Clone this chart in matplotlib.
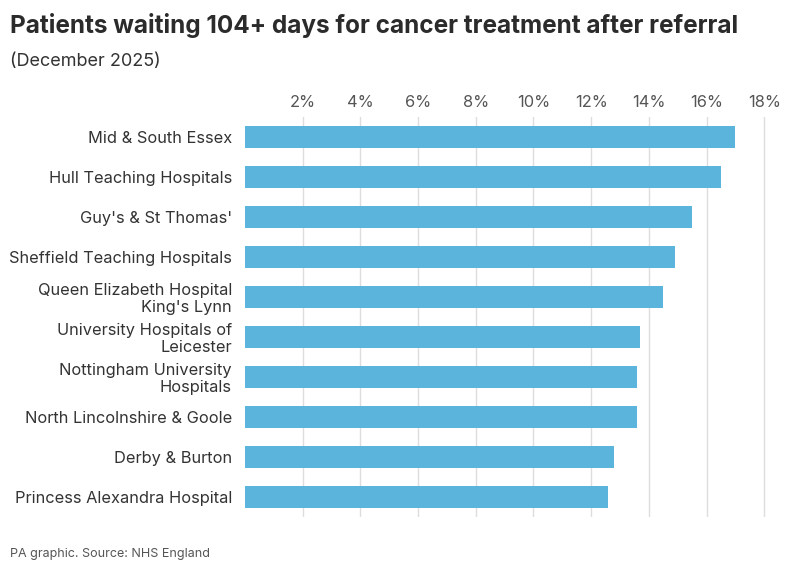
import matplotlib
matplotlib.use('Agg')
from matplotlib import pyplot as plt
from matplotlib.ticker import FuncFormatter

plt.rcParams['font.family'] = ['Inter', 'DejaVu Sans']

trusts = [
    'Mid & South Essex',
    'Hull Teaching Hospitals',
    "Guy's & St Thomas'",
    'Sheffield Teaching Hospitals',
    "Queen Elizabeth Hospital\nKing's Lynn",
    'University Hospitals of\nLeicester',
    'Nottingham University\nHospitals',
    'North Lincolnshire & Goole',
    'Derby & Burton',
    'Princess Alexandra Hospital',
]
pct_waiting = [17.0, 16.5, 15.5, 14.9, 14.5, 13.7, 13.6, 13.6, 12.8, 12.6]
x_ticks = [2, 4, 6, 8, 10, 12, 14, 16, 18]

BAR_COLOR = '#5ab4db'
TEXT_COLOR = '#333333'
GRID_COLOR = '#dddddd'

fig = plt.figure(figsize=(7.94, 5.75), dpi=100)
ax = fig.add_axes([0.3086, 0.1009, 0.9698 - 0.3086, 0.7965 - 0.1009])

ypos = list(range(len(trusts)))
ax.barh(ypos, pct_waiting, height=0.55, color=BAR_COLOR, zorder=2)
ax.set_ylim(len(trusts) - 0.5, -0.5)
ax.set_xlim(0, 18.2)

ax.set_yticks(ypos)
ax.set_yticklabels(trusts, fontsize=11.8, color=TEXT_COLOR, linespacing=1.1)
ax.set_xticks(x_ticks)
ax.xaxis.set_major_formatter(FuncFormatter(lambda v, p: f'{v:.0f}%'))
ax.xaxis.tick_top()
ax.tick_params(axis='x', length=0, pad=5, labelsize=11.8, labelcolor='#555555')
ax.tick_params(axis='y', length=0, pad=9.4)

ax.grid(axis='x', color=GRID_COLOR, linewidth=1, zorder=0)
for spine in ax.spines.values():
    spine.set_visible(False)

fig.text(0.0126, 0.955, 'Patients waiting 104+ days for cancer treatment after referral',
         fontsize=17.5, fontweight='bold', color='#2b2b2b', va='center', ha='left')
fig.text(0.0126, 0.893, '(December 2025)', fontsize=13, color=TEXT_COLOR,
         va='center', ha='left')
fig.text(0.0126, 0.037, 'PA graphic. Source: NHS England', fontsize=9,
         color='#555555', va='center', ha='left')

fig.savefig('out.png', dpi=100, facecolor='w')
